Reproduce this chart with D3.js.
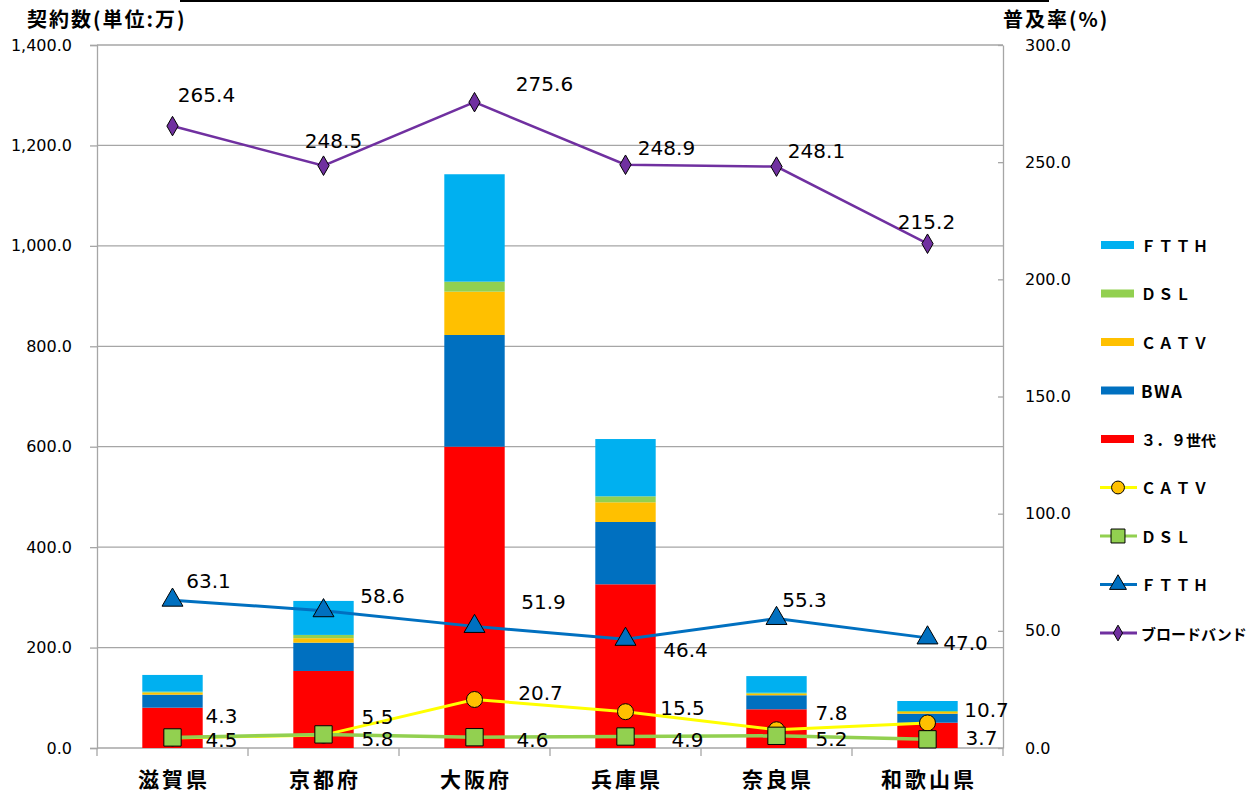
<!DOCTYPE html>
<html>
<head>
<meta charset="utf-8">
<script src="https://cdn.jsdelivr.net/npm/d3@7"></script>
<style>
  body { margin: 0; background: #fff; }
  svg text { font-family: "DejaVu Sans", "Noto Sans CJK JP", sans-serif; }
  .jp { font-family: "Noto Sans CJK JP", sans-serif; font-weight: bold; }
</style>
</head>
<body>
<div id="chart"></div>
<script>
// categories
const prefectures = ["滋賀県", "京都府", "大阪府", "兵庫県", "奈良県", "和歌山県"];

// stacked bars (契約数, 万)
const bar39g = [80.3, 153.4, 600.1, 326.0, 77.1, 50.4];
const barBWA = [25.9, 56.4, 222.4, 124.1, 27.9, 17.9];
const barCATV = [4.0, 8.8, 86.3, 39.2, 3.0, 3.5];
const barDSL = [2.0, 6.6, 19.9, 11.9, 2.0, 1.9];
const barFTTH = [33.3, 67.7, 213.9, 114.1, 33.2, 19.9];

// lines (普及率, %)
const rateCATV = [4.3, 5.5, 20.7, 15.5, 7.8, 10.7];
const rateDSL = [4.5, 5.8, 4.6, 4.9, 5.2, 3.7];
const rateFTTH = [63.1, 58.6, 51.9, 46.4, 55.3, 47.0];
const rateBB = [265.4, 248.5, 275.6, 248.9, 248.1, 215.2];

// axis ticks
const leftTicks = [0, 200, 400, 600, 800, 1000, 1200, 1400];
const rightTicks = [0, 50, 100, 150, 200, 250, 300];

// label nudges (px) from each point, by series
const nudgeCATV = [[49, -22], [54, -18], [66, -6], [57, -4], [55, -17], [59, -13]];
const nudgeDSL = [[49, 3], [54, 5], [58, 3], [62, 3], [55, 3], [54, -1]];
const nudgeFTTH = [[36, -19], [59, -15], [69, -24], [60, 11], [28, -18], [38, 5]];
const nudgeBB = [[34, -31], [10, -25], [70, -18], [41, -17], [40, -16], [-1, -22]];

const W = 1250, H = 792;
const plotL = 97, plotR = 1003, plotB = 748, plotT = 45;

const svg = d3.select("#chart").append("svg")
    .attr("width", W).attr("height", H);

const x = d3.scaleBand().domain(prefectures).range([plotL, plotR])
    .paddingInner(0.6).paddingOuter(0.3);
const step = (plotR - plotL) / prefectures.length;
const yL = d3.scaleLinear().domain([0, 1400]).range([plotB, plotT]);
const yR = d3.scaleLinear().domain([0, 300]).range([plotB, plotT]);
const cx = d => x(d) + x.bandwidth() / 2;

// top stray border
svg.append("line").attr("x1", 180).attr("x2", 1049).attr("y1", 1).attr("y2", 1)
    .attr("stroke", "#000").attr("stroke-width", 2);

// gridlines
svg.append("g").selectAll("line").data(leftTicks.filter(d => d > 0)).join("line")
    .attr("x1", plotL).attr("x2", plotR)
    .attr("y1", d => yL(d)).attr("y2", d => yL(d))
    .attr("stroke", "#a6a6a6").attr("stroke-width", 1.3);

// left axis
const gL = svg.append("g").attr("transform", `translate(${plotL},0)`)
    .call(d3.axisLeft(yL).tickValues(leftTicks).tickSize(7).tickPadding(18)
        .tickFormat(d3.format(",.1f")));
gL.select(".domain").attr("stroke", "#a6a6a6").attr("stroke-width", 1.3);
gL.selectAll(".tick line").attr("stroke", "#a6a6a6").attr("stroke-width", 1.3);
gL.selectAll(".tick text").attr("font-size", 16).attr("fill", "#000")
    .attr("font-family", "'DejaVu Sans', sans-serif");

// right axis
const gR = svg.append("g").attr("transform", `translate(${plotR},0)`)
    .call(d3.axisRight(yR).tickValues(rightTicks).tickSizeInner(-5).tickSizeOuter(0)
        .tickPadding(22).tickFormat(d3.format(".1f")));
gR.select(".domain").attr("stroke", "#a6a6a6").attr("stroke-width", 1.3);
gR.selectAll(".tick line").attr("stroke", "#a6a6a6").attr("stroke-width", 1.3);
gR.selectAll(".tick text").attr("font-size", 16).attr("fill", "#000")
    .attr("font-family", "'DejaVu Sans', sans-serif");

// bottom axis
svg.append("line").attr("x1", plotL).attr("x2", plotR)
    .attr("y1", plotB).attr("y2", plotB)
    .attr("stroke", "#a6a6a6").attr("stroke-width", 1.3);
svg.append("g").selectAll("line").data(d3.range(prefectures.length + 1)).join("line")
    .attr("x1", i => plotL + i * step).attr("x2", i => plotL + i * step)
    .attr("y1", plotB).attr("y2", plotB + 8)
    .attr("stroke", "#a6a6a6").attr("stroke-width", 1.3);
svg.append("g").selectAll("text").data(prefectures).join("text")
    .attr("class", "jp")
    .attr("x", d => cx(d) + 1.5).attr("y", 787)
    .attr("text-anchor", "middle")
    .attr("letter-spacing", 3)
    .attr("font-size", 21).text(d => d);

// axis titles
svg.append("text").attr("class", "jp").attr("x", 27).attr("y", 27)
    .attr("letter-spacing", 2).attr("font-size", 20).text("契約数(単位:万)");
svg.append("text").attr("class", "jp").attr("x", 1003).attr("y", 27)
    .attr("letter-spacing", 2).attr("font-size", 20).text("普及率(%)");

// stacked bars
const barSeries = [
    { name: "３．９世代", values: bar39g, color: "#ff0000" },
    { name: "BWA", values: barBWA, color: "#0070c0" },
    { name: "ＣＡＴＶ", values: barCATV, color: "#ffc000" },
    { name: "ＤＳＬ", values: barDSL, color: "#92d050" },
    { name: "ＦＴＴＨ", values: barFTTH, color: "#00b0f0" }
];
const rows = prefectures.map((p, i) => {
    const r = { pref: p };
    barSeries.forEach(s => r[s.name] = s.values[i]);
    return r;
});
const stacked = d3.stack().keys(barSeries.map(s => s.name))(rows);
svg.append("g").selectAll("g").data(stacked).join("g")
    .attr("fill", (d, i) => barSeries[i].color)
    .selectAll("rect").data(d => d).join("rect")
    .attr("x", d => x(d.data.pref)).attr("width", x.bandwidth())
    .attr("y", d => yL(d[1])).attr("height", d => yL(d[0]) - yL(d[1]));

// lines
const lineSeries = [
    { name: "ＣＡＴＶ", values: rateCATV, color: "#ffff00", marker: "circle", fill: "#ffc000", nudge: nudgeCATV, w: 3 },
    { name: "ＤＳＬ", values: rateDSL, color: "#92d050", marker: "square", fill: "#92d050", nudge: nudgeDSL, w: 3.5 },
    { name: "ＦＴＴＨ", values: rateFTTH, color: "#0070c0", marker: "triangle", fill: "#0070c0", nudge: nudgeFTTH, w: 3 },
    { name: "ブロードバンド", values: rateBB, color: "#7030a0", marker: "diamond", fill: "#7030a0", nudge: nudgeBB, w: 2.5 }
];
const symType = { circle: d3.symbolCircle, square: d3.symbolSquare, triangle: d3.symbolTriangle, diamond: d3.symbolDiamond };
const symSize = { circle: 200, square: 300, triangle: 190, diamond: 110 };
const line = d3.line().x(d => cx(d.p)).y(d => yR(d.v));

lineSeries.forEach(s => {
    const pts = prefectures.map((p, i) => ({ p, v: s.values[i], n: s.nudge[i] }));
    const g = svg.append("g");
    g.append("path").datum(pts).attr("d", line)
        .attr("fill", "none").attr("stroke", s.color).attr("stroke-width", s.w);
    g.selectAll("path.m").data(pts).join("path").attr("class", "m")
        .attr("transform", d => `translate(${cx(d.p)},${yR(d.v)})`)
        .attr("d", d3.symbol().type(symType[s.marker]).size(symSize[s.marker]))
        .attr("fill", s.fill).attr("stroke", "#000").attr("stroke-width", 1);
    s.pts = pts;
});
lineSeries.forEach(s => {
    svg.append("g").selectAll("text").data(s.pts).join("text")
        .attr("x", d => cx(d.p) + d.n[0]).attr("y", d => yR(d.v) + d.n[1])
        .attr("text-anchor", "middle").attr("dominant-baseline", "central")
        .attr("font-size", 20).attr("fill", "#000")
        .text(d => d3.format(".1f")(d.v));
});

// legend
const legend = svg.append("g");
const legItems = barSeries.slice().reverse().map(s => ({ type: "bar", s }))
    .concat(lineSeries.map(s => ({ type: "line", s })));
const legSpacing = { "BWA": 1.5, "ＦＴＴＨ": 2.3, "ＤＳＬ": 2.3, "ＣＡＴＶ": 2.3 };
legItems.forEach((it, i) => {
    const y = 245 + i * 48.5;
    const g = legend.append("g").attr("transform", `translate(0,${y})`);
    if (it.type === "bar") {
        g.append("rect").attr("x", 1101).attr("y", -4).attr("width", 33).attr("height", 8)
            .attr("fill", it.s.color);
    } else {
        g.append("line").attr("x1", 1100).attr("x2", 1137).attr("y1", 0).attr("y2", 0)
            .attr("stroke", it.s.color).attr("stroke-width", 3);
        g.append("path").attr("transform", "translate(1118,0)")
            .attr("d", d3.symbol().type(symType[it.s.marker]).size(symSize[it.s.marker] * 0.65))
            .attr("fill", it.s.fill).attr("stroke", "#000").attr("stroke-width", 1);
    }
    g.append("text").attr("class", "jp").attr("x", 1141).attr("y", 0)
        .attr("dominant-baseline", "central")
        .attr("font-size", it.s.name === "BWA" ? 17 : 15)
        .attr("letter-spacing", legSpacing[it.s.name] || 0)
        .text(it.s.name);
});
</script>
</body>
</html>
